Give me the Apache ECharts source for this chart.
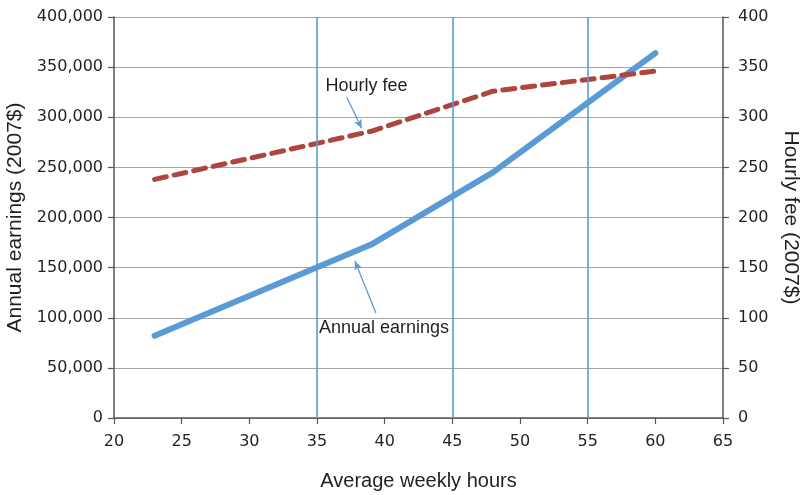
<!DOCTYPE html>
<html>
<head>
<meta charset="utf-8">
<script src="https://cdn.jsdelivr.net/npm/echarts@6/dist/echarts.min.js"></script>
<style>
html,body{margin:0;padding:0;background:#fff;}
#chart{width:804px;height:495px;}
</style>
</head>
<body>
<div id="chart"></div>
<script>
// Data
const hours = [23, 39, 48, 60];
const annualEarnings = [82000, 173000, 245000, 364000];
const hourlyFee = [238, 286, 326, 346];
const referenceHours = [35, 45, 55];
const xTicks = {min: 20, max: 65, interval: 5};
const leftTicks = {min: 0, max: 400000, interval: 50000};
const rightTicks = {min: 0, max: 400, interval: 50};
// Annotations (data coordinates)
const feeLabel = {text: 'Hourly fee', at: [38.65, 331], from: [37.2, 320], to: [38.3, 289]};
const earnLabel = {text: 'Annual earnings', at: [39.95, 89800], from: [39.35, 104700], to: [37.8, 156600]};

const FONT = '"Liberation Sans", Arial, Helvetica, sans-serif';
const TICKFONT = '"DejaVu Sans", "Liberation Sans", Arial, sans-serif';
const TXT = '#231f20';
const BLUE = '#5b9bd5';
const RED = '#ad463e';

const chart = echarts.init(document.getElementById('chart'), null, {renderer: 'canvas'});

const axisCommon = {
  axisLine: {show: true, lineStyle: {color: '#555', width: 1.5}},
  axisTick: {show: true, inside: false, length: 6, lineStyle: {color: '#555', width: 1.2}},
  axisLabel: {color: TXT, fontSize: 16, fontFamily: TICKFONT},
  nameTextStyle: {color: TXT, fontSize: 20, fontFamily: FONT}
};

chart.setOption({
  animation: false,
  backgroundColor: '#fff',
  grid: {left: 114, right: 81, top: 17, bottom: 77, containLabel: false, outerBoundsMode: 'none'},
  xAxis: Object.assign({}, axisCommon, {
    type: 'value', min: xTicks.min, max: xTicks.max, interval: xTicks.interval,
    name: 'Average weekly hours', nameLocation: 'middle', nameGap: 53,
    splitLine: {show: false},
    axisLabel: Object.assign({}, axisCommon.axisLabel, {margin: 16})
  }),
  yAxis: [
    Object.assign({}, axisCommon, {
      type: 'value', position: 'left', min: leftTicks.min, max: leftTicks.max, interval: leftTicks.interval,
      name: 'Annual earnings (2007$)', nameLocation: 'middle', nameGap: 85, nameRotate: 90,
      nameTextStyle: Object.assign({}, axisCommon.nameTextStyle, {fontSize: 21}),
      splitLine: {show: true, lineStyle: {color: '#a6a6a6', width: 1.2}},
      axisLabel: Object.assign({}, axisCommon.axisLabel, {
        margin: 11,
        formatter: v => v.toLocaleString('en-US')
      })
    }),
    Object.assign({}, axisCommon, {
      type: 'value', position: 'right', min: rightTicks.min, max: rightTicks.max, interval: rightTicks.interval,
      name: 'Hourly fee (2007$)', nameLocation: 'middle', nameGap: 57, nameRotate: -90,
      nameTextStyle: Object.assign({}, axisCommon.nameTextStyle, {fontSize: 21}),
      splitLine: {show: false},
      axisLabel: Object.assign({}, axisCommon.axisLabel, {margin: 15})
    })
  ],
  series: [
    {
      name: 'Annual earnings', type: 'line', yAxisIndex: 0,
      data: hours.map((h, i) => [h, annualEarnings[i]]),
      showSymbol: false, symbol: 'none', z: 3,
      lineStyle: {color: BLUE, width: 6, cap: 'round', join: 'round'},
      markLine: {
        silent: true, animation: false, precision: 4,
        symbol: ['none', 'none'],
        label: {show: false},
        lineStyle: {color: BLUE, width: 1.6, type: 'solid'},
        data: referenceHours.map(h => ({xAxis: h}))
          .concat([[
            {coord: earnLabel.from, symbol: 'none', lineStyle: {color: BLUE, width: 1.3}},
            {coord: earnLabel.to, symbol: 'arrow', symbolSize: [6, 9], lineStyle: {color: BLUE, width: 1.3}}
          ]])
      },
      markPoint: {
        silent: true, animation: false,
        symbol: 'circle', symbolSize: 0,
        label: {show: true, position: 'inside', color: TXT, fontSize: 18, fontFamily: FONT},
        data: [{coord: earnLabel.at, value: earnLabel.text, label: {formatter: earnLabel.text}}]
      }
    },
    {
      name: 'Hourly fee', type: 'line', yAxisIndex: 1,
      data: hours.map((h, i) => [h, hourlyFee[i]]),
      showSymbol: false, symbol: 'none', z: 4,
      lineStyle: {color: RED, width: 5, type: [12, 8], cap: 'round', join: 'round'},
      markLine: {
        silent: true, animation: false, precision: 4,
        symbol: ['none', 'arrow'], symbolSize: [6, 9],
        label: {show: false},
        lineStyle: {color: BLUE, width: 1.3, type: 'solid'},
        data: [[{coord: feeLabel.from}, {coord: feeLabel.to}]]
      },
      markPoint: {
        silent: true, animation: false,
        symbol: 'circle', symbolSize: 0,
        label: {show: true, position: 'inside', color: TXT, fontSize: 18, fontFamily: FONT},
        data: [{coord: feeLabel.at, value: feeLabel.text, label: {formatter: feeLabel.text}}]
      }
    }
  ]
});
</script>
</body>
</html>
